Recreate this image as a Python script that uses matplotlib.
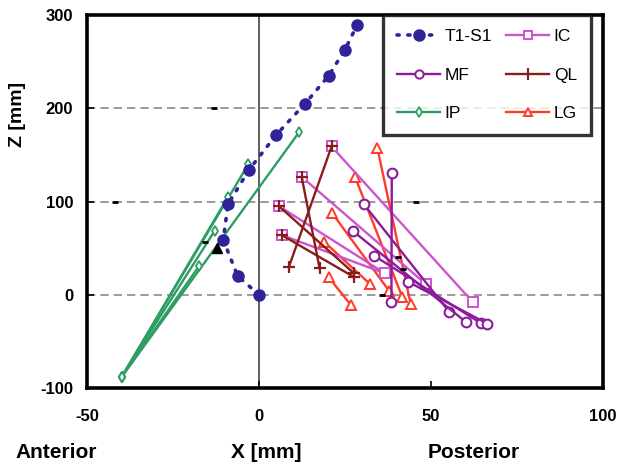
import matplotlib
matplotlib.use("Agg")
import matplotlib.pyplot as plt
from matplotlib.lines import Line2D

plt.rcParams['font.family'] = ['Liberation Sans', 'DejaVu Sans']
plt.rcParams['axes.unicode_minus'] = False

# Spine centre line T1-S1 (x: anterior/posterior, z: vertical) [mm]
spine_x = [0.0, -6.2, -10.4, -9.0, -2.9, 4.9, 13.4, 20.3, 25.0, 28.5]
spine_z = [0.0, 20.0, 59.0, 97.0, 134.0, 171.0, 205.0, 235.0, 263.0, 289.0]

# Muscle lines of action: origin (x0, z0) -> insertion (x1, z1) [mm]
mf_x0 = [38.6, 30.5, 27.4, 33.4, 43.3]
mf_z0 = [131.0, 97.0, 68.0, 42.0, 14.0]
mf_x1 = [38.5, 55.2, 60.3, 64.4, 66.4]
mf_z1 = [-8.0, -18.0, -29.6, -30.3, -31.0]

ic_x0 = [21.1, 12.4, 5.8, 6.6]
ic_z0 = [159.0, 126.5, 95.0, 64.0]
ic_x1 = [62.2, 48.5, 36.6, 36.6]
ic_z1 = [-8.0, 11.4, 23.0, 23.0]

ql_x0 = [21.1, 12.4, 5.8, 6.6]
ql_z0 = [159.0, 126.5, 95.0, 64.0]
ql_x1 = [8.7, 17.6, 27.6, 27.6]
ql_z1 = [30.0, 28.5, 23.0, 19.0]

lg_x0 = [34.4, 27.9, 21.3, 18.9, 20.3]
lg_z0 = [157.5, 126.5, 87.4, 57.0, 18.5]
lg_x1 = [44.1, 41.7, 37.8, 32.3, 26.8]
lg_z1 = [-10.0, -2.9, 4.3, 11.4, -11.4]

ip_x0 = [-39.9, -39.9, -39.9, -39.9, -39.9]
ip_z0 = [-88.0, -88.0, -88.0, -88.0, -88.0]
ip_x1 = [11.6, -3.1, -9.0, -12.9, -17.4]
ip_z1 = [174.0, 140.0, 105.0, 68.5, 31.0]

# Reference landmarks
lm_tri_x = [-12.1]
lm_tri_z = [50.0]
lm_dash_x = [-15.7, -13.0, -42.0, 45.5, 35.8, 40.5, 42.0]
lm_dash_z = [57.0, 200.0, 100.0, 99.0, 0.0, 40.0, 28.0]

x_ticks = [-50, 0, 50, 100]
z_ticks = [-100, 0, 100, 200, 300]
grid_z = [0, 100, 200]

C_SPINE = '#30239a'
C_MF = '#8c1c9c'
C_IC = '#cc55cc'
C_QL = '#8b1c1c'
C_LG = '#ff3b2a'
C_IP = '#2e9d63'

fig = plt.figure(figsize=(6.17, 4.65), dpi=100)
W, H = 617.0, 465.0
ax = fig.add_axes([87 / W, 1 - 388 / H, (603 - 87) / W, (388 - 15) / H])
ax.set_xlim(-50, 100)
ax.set_ylim(-100, 300)

for gz in grid_z:
    ax.axhline(gz, color='#8a8a8a', lw=1.2, ls=(0, (5, 3)), zorder=1)
ax.axvline(0, color='#444444', lw=1.2, zorder=1)


def draw_group(x0, z0, x1, z1, color, marker, ms, mew, face='white', z=3):
    for a, b, c, d in zip(x0, z0, x1, z1):
        ax.plot([a, c], [b, d], color=color, lw=1.7, marker=marker, ms=ms,
                mfc=face, mec=color, mew=mew, zorder=z)


draw_group(ip_x0, ip_z0, ip_x1, ip_z1, C_IP, 'd', 5.5, 1.3, z=3)
draw_group(lg_x0, lg_z0, lg_x1, lg_z1, C_LG, '^', 7, 1.4, z=3)
draw_group(ic_x0, ic_z0, ic_x1, ic_z1, C_IC, 's', 7, 1.4, z=4)
draw_group(ql_x0, ql_z0, ql_x1, ql_z1, C_QL, '+', 9, 1.6, z=5)
draw_group(mf_x0, mf_z0, mf_x1, mf_z1, C_MF, 'o', 7, 1.5, z=4)

ax.plot(spine_x, spine_z, color=C_SPINE, lw=2.6, ls=(0, (0.6, 2.4)),
        dash_capstyle='round', marker='o', ms=8, mfc=C_SPINE, mec=C_SPINE,
        zorder=6)

ax.plot(lm_tri_x, lm_tri_z, ls='none', marker='^', ms=7, color='black', zorder=7)
ax.plot(lm_dash_x, lm_dash_z, ls='none', marker='_', ms=5, mew=2,
        color='black', zorder=7)

ax.set_xticks(x_ticks)
ax.set_yticks(z_ticks)
ax.tick_params(axis='both', direction='in', length=5, width=1.2,
               labelsize=12)
ax.tick_params(axis='x', pad=15)
ax.tick_params(axis='y', pad=10)
for lab in ax.get_xticklabels() + ax.get_yticklabels():
    lab.set_fontweight('bold')
for s in ax.spines.values():
    s.set_linewidth(2.6)
    s.set_color('black')

handles = [
    Line2D([], [], color=C_SPINE, lw=2.6, ls=(0, (0.6, 2.4)),
           dash_capstyle='round', marker='o', ms=8, mfc=C_SPINE, mec=C_SPINE),
    Line2D([], [], color=C_MF, lw=1.7, marker='o', ms=6, mfc='white', mec=C_MF, mew=1.4),
    Line2D([], [], color=C_IP, lw=1.7, marker='d', ms=5, mfc='white', mec=C_IP, mew=1.3),
    Line2D([], [], color=C_IC, lw=1.7, marker='s', ms=6, mfc='white', mec=C_IC, mew=1.4),
    Line2D([], [], color=C_QL, lw=1.7, marker='|', ms=8, mec=C_QL, mew=1.6),
    Line2D([], [], color=C_LG, lw=1.7, marker='^', ms=6, mfc='white', mec=C_LG, mew=1.4),
]
labels = ['T1-S1', 'MF', 'IP', 'IC', 'QL', 'LG']
leg = ax.legend(handles, labels, ncol=2, loc='upper left',
                bbox_to_anchor=((383 - 87) / (603 - 87), 1.0),
                borderaxespad=0, fontsize=12.5, handlelength=2.5,
                handletextpad=0.25, columnspacing=0.8, labelspacing=1.35,
                borderpad=0.8, frameon=True, fancybox=False)
leg.get_frame().set_edgecolor('black')
leg.get_frame().set_linewidth(2.4)
leg.set_zorder(10)

fig.text(18 / W, 1 - 114 / H, 'Z [mm]', rotation=90, ha='center', va='center',
         fontsize=14, fontweight='bold')
fig.text(56 / W, 1 - 452 / H, 'Anterior', ha='center', va='center',
         fontsize=15, fontweight='bold')
fig.text(266 / W, 1 - 452 / H, 'X [mm]', ha='center', va='center',
         fontsize=15, fontweight='bold')
fig.text(474 / W, 1 - 452 / H, 'Posterior', ha='center', va='center',
         fontsize=15, fontweight='bold')

fig.savefig('out.png', dpi=100)
